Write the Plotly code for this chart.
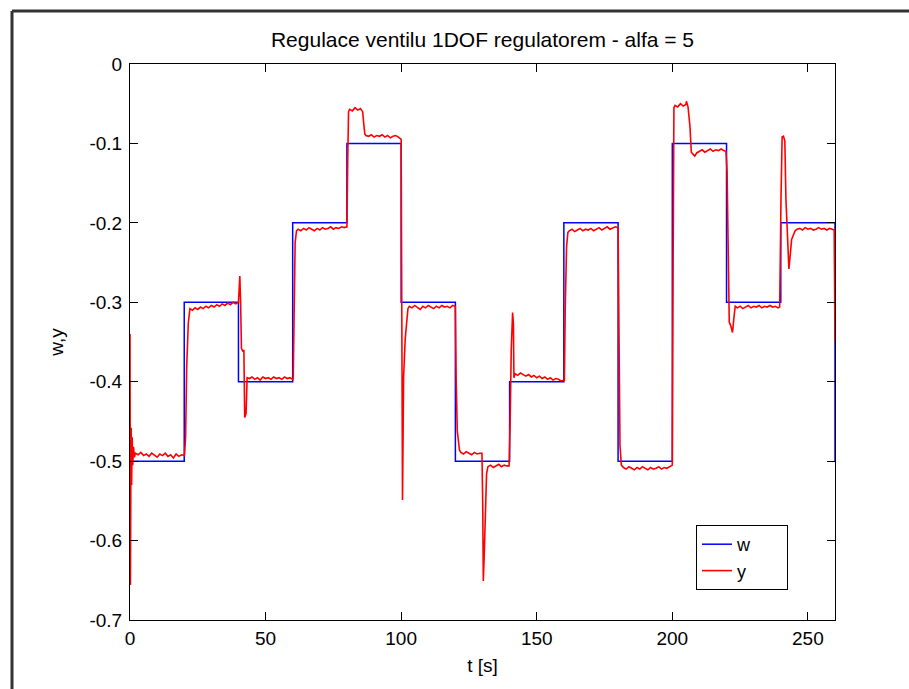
import plotly.graph_objects as go

# Setpoint w (step changes, held until the next time)
t_w = [0, 20, 40, 60, 80, 100, 120, 140, 160, 180, 200, 220, 240, 260]
w_vals = [-0.5, -0.3, -0.4, -0.2, -0.1, -0.3, -0.5, -0.4, -0.2, -0.5, -0.1, -0.3, -0.2, -0.5]

t_y = [
    0, 0.15, 0.3, 0.45, 0.6, 0.8, 1.0, 1.3, 1.6, 2, 3, 4, 5, 6, 7, 8, 9, 10, 11, 12, 13, 14, 15, 16, 17, 18, 19, 20.1,
    20.5, 20.9, 21.5, 22.1, 23, 24, 25, 26, 27, 28, 29, 30, 31, 32, 33, 34, 35, 36, 37, 38, 39, 40.0,
    40.3, 40.5, 40.8, 41.1, 41.6, 42.0, 42.3, 42.8, 43.2, 44, 45, 46, 47, 48, 49, 50, 51, 52, 53, 54, 55, 56, 57, 58, 59, 60,
    60.2, 60.5, 60.9, 61.4, 62, 63, 64, 65, 66, 67, 68, 69, 70, 71, 72, 73, 74, 75, 76, 77, 78, 79, 80.0,
    80.3, 80.6, 81, 82, 83, 84, 85, 85.8, 86.2, 86.6, 87, 88, 89, 90, 91, 92, 93, 94, 95, 96, 97, 98, 99, 99.8, 100.0,
    100.5, 100.9, 101.5, 102.5, 103, 104, 105, 106, 107, 108, 109, 110, 111, 112, 113, 114, 115, 116, 117, 118, 119, 120.0,
    120.3, 120.7, 121.5, 122, 123, 124, 125, 126, 127, 128, 129, 129.8,
    130.1, 130.3, 130.6, 131, 131.5, 132, 133, 134, 135, 136, 137, 138, 139, 139.8,
    140.2, 140.6, 141.1, 141.4, 141.6, 142, 143, 144, 145, 146, 147, 148, 149, 150, 151, 152, 153, 154, 155, 156, 157, 158, 159, 160.0,
    160.2, 160.5, 161, 161.5, 162, 163, 164, 165, 166, 167, 168, 169, 170, 171, 172, 173, 174, 175, 176, 177, 178, 179, 180.0,
    180.3, 180.7, 181.2, 182, 183, 184, 185, 186, 187, 188, 189, 190, 191, 192, 193, 194, 195, 196, 197, 198, 199, 200.0,
    200.3, 200.6, 201, 202, 203, 204, 205, 205.2, 205.8, 206.5, 207, 207.6, 208.3, 209, 210, 211, 212, 213, 214, 215, 216, 217, 218, 219, 219.8,
    220.2, 220.6, 221, 221.6, 222.2, 222.7, 223.2, 224, 225, 226, 227, 228, 229, 230, 231, 232, 233, 234, 235, 236, 237, 238, 239, 239.6,
    240.1, 240.5, 241.0, 241.5, 241.9, 242.4, 243.0, 243.5, 244, 245.3, 246, 247, 248, 249, 250, 251, 252, 253, 254, 255, 256, 257, 258, 259, 259.7, 260,
]
y_meas = [
    -0.340, -0.656, -0.535, -0.458, -0.530, -0.470, -0.505, -0.482, -0.495, -0.490, -0.492, -0.489, -0.493, -0.491, -0.494, -0.490, -0.492, -0.495, -0.491, -0.493, -0.490, -0.494, -0.492, -0.496, -0.491, -0.494, -0.492, -0.493,
    -0.470, -0.382, -0.326, -0.308, -0.310, -0.307, -0.309, -0.306, -0.308, -0.305, -0.307, -0.304, -0.306, -0.303, -0.305, -0.302, -0.304, -0.301, -0.303, -0.300, -0.302, -0.300,
    -0.280, -0.267, -0.300, -0.358, -0.362, -0.360, -0.445, -0.440, -0.395, -0.396, -0.394, -0.397, -0.395, -0.398, -0.394, -0.396, -0.395, -0.397, -0.394, -0.396, -0.395, -0.397, -0.394, -0.396, -0.395, -0.397,
    -0.395, -0.300, -0.225, -0.210, -0.208, -0.210, -0.207, -0.209, -0.206, -0.208, -0.210, -0.207, -0.209, -0.206, -0.208, -0.207, -0.205, -0.208, -0.206, -0.207, -0.205, -0.206, -0.205,
    -0.120, -0.060, -0.057, -0.059, -0.055, -0.058, -0.056, -0.060, -0.075, -0.088, -0.090, -0.091, -0.089, -0.092, -0.090, -0.091, -0.089, -0.092, -0.090, -0.093, -0.091, -0.090, -0.092, -0.094, -0.095,
    -0.549, -0.395, -0.346, -0.308, -0.305, -0.307, -0.304, -0.306, -0.309, -0.305, -0.307, -0.304, -0.306, -0.308, -0.305, -0.307, -0.304, -0.306, -0.305, -0.307, -0.304, -0.305,
    -0.400, -0.462, -0.486, -0.489, -0.491, -0.488, -0.490, -0.492, -0.489, -0.491, -0.490, -0.490,
    -0.560, -0.651, -0.622, -0.560, -0.516, -0.507, -0.505, -0.508, -0.506, -0.504, -0.507, -0.505, -0.506, -0.506,
    -0.450, -0.360, -0.313, -0.327, -0.395, -0.390, -0.392, -0.389, -0.391, -0.393, -0.391, -0.394, -0.392, -0.395, -0.393, -0.396, -0.394, -0.397, -0.395, -0.398, -0.396, -0.397, -0.399, -0.398,
    -0.398, -0.310, -0.230, -0.212, -0.210, -0.208, -0.211, -0.209, -0.207, -0.210, -0.208, -0.209, -0.207, -0.210, -0.208, -0.206, -0.209, -0.207, -0.205, -0.208, -0.206, -0.205, -0.206,
    -0.320, -0.480, -0.505, -0.508, -0.510, -0.507, -0.509, -0.511, -0.508, -0.510, -0.507, -0.509, -0.511, -0.508, -0.510, -0.509, -0.507, -0.510, -0.508, -0.509, -0.507, -0.505,
    -0.250, -0.055, -0.052, -0.054, -0.050, -0.053, -0.051, -0.047, -0.054, -0.078, -0.111, -0.114, -0.116, -0.112, -0.110, -0.108, -0.111, -0.109, -0.107, -0.110, -0.108, -0.109, -0.107, -0.109, -0.110,
    -0.136, -0.260, -0.325, -0.330, -0.338, -0.320, -0.305, -0.307, -0.305, -0.308, -0.306, -0.304, -0.307, -0.305, -0.306, -0.304, -0.307, -0.305, -0.306, -0.304, -0.306, -0.305, -0.307, -0.306,
    -0.166, -0.092, -0.091, -0.097, -0.170, -0.220, -0.258, -0.240, -0.221, -0.210, -0.208, -0.207, -0.209, -0.206, -0.208, -0.207, -0.209, -0.208, -0.206, -0.208, -0.207, -0.209, -0.207, -0.208, -0.209, -0.350,
]

x_ticks = [0, 50, 100, 150, 200, 250]
y_ticks = [0, -0.1, -0.2, -0.3, -0.4, -0.5, -0.6, -0.7]
y_ticktext = ["0", "-0.1", "-0.2", "-0.3", "-0.4", "-0.5", "-0.6", "-0.7"]

assert len(t_y) == len(y_meas), (len(t_y), len(y_meas))

FONT = "Liberation Sans, Arial, sans-serif"
PAD = "\u00a0" * 6  # trailing blank space so the legend box is as wide as the original

fig = go.Figure()
fig.add_trace(go.Scatter(x=t_w, y=w_vals, mode="lines", name="w" + PAD,
                         line=dict(color="#0000FF", width=1.5, shape="hv")))
fig.add_trace(go.Scatter(x=t_y, y=y_meas, mode="lines", name="y" + PAD,
                         line=dict(color="#FF0000", width=1.6)))

W, H = 909, 689
L, R, T, B = 130, 835, 64, 620
pw, ph = R - L, B - T

def px(xp):
    return (xp - L) / pw

def py(yp):
    return (B - yp) / ph

fig.update_layout(
    width=W, height=H,
    margin=dict(l=L, r=W - R, t=T, b=H - B, pad=0),
    paper_bgcolor="white", plot_bgcolor="white",
    font=dict(family=FONT, size=19, color="black"),
    title=dict(text="Regulace ventilu 1DOF regulatorem - alfa = 5",
               x=0.5, xref="paper", xanchor="center",
               y=1 - 40 / H, yref="container", yanchor="middle",
               font=dict(family=FONT, size=21, color="black")),
    showlegend=True,
    legend=dict(x=px(696), y=py(525), xanchor="left", yanchor="top",
                bgcolor="white", bordercolor="black", borderwidth=1,
                font=dict(family=FONT, size=18, color="black"),
                tracegroupgap=0),
    xaxis=dict(range=[0, 260], tickvals=x_ticks, ticktext=[str(v) for v in x_ticks],
               ticks="inside", ticklen=8, tickcolor="black", tickwidth=1,
               showline=True, linecolor="black", linewidth=1, mirror="ticks",
               showgrid=False, zeroline=False, ticklabelstandoff=1,
               title=dict(text="t [s]", standoff=10, font=dict(family=FONT, size=19))),
    yaxis=dict(range=[-0.7, 0], tickvals=y_ticks, ticktext=y_ticktext,
               ticks="inside", ticklen=8, tickcolor="black", tickwidth=1,
               showline=True, linecolor="black", linewidth=1, mirror="ticks",
               showgrid=False, zeroline=False, ticklabelstandoff=3,
               title=dict(text="w,y", standoff=20, font=dict(family=FONT, size=19))),
    shapes=[
        dict(type="line", xref="paper", yref="paper", x0=px(12), x1=px(12),
             y0=py(11), y1=py(H + 5), line=dict(color="#333333", width=3)),
        dict(type="line", xref="paper", yref="paper", x0=px(12), x1=px(W + 5),
             y0=py(11), y1=py(11), line=dict(color="#333333", width=3)),
    ],
)

fig.write_html(
    "out.html",
    config={"displayModeBar": False},
    post_script="document.body.style.margin='0';document.body.style.overflow='hidden';",
)
